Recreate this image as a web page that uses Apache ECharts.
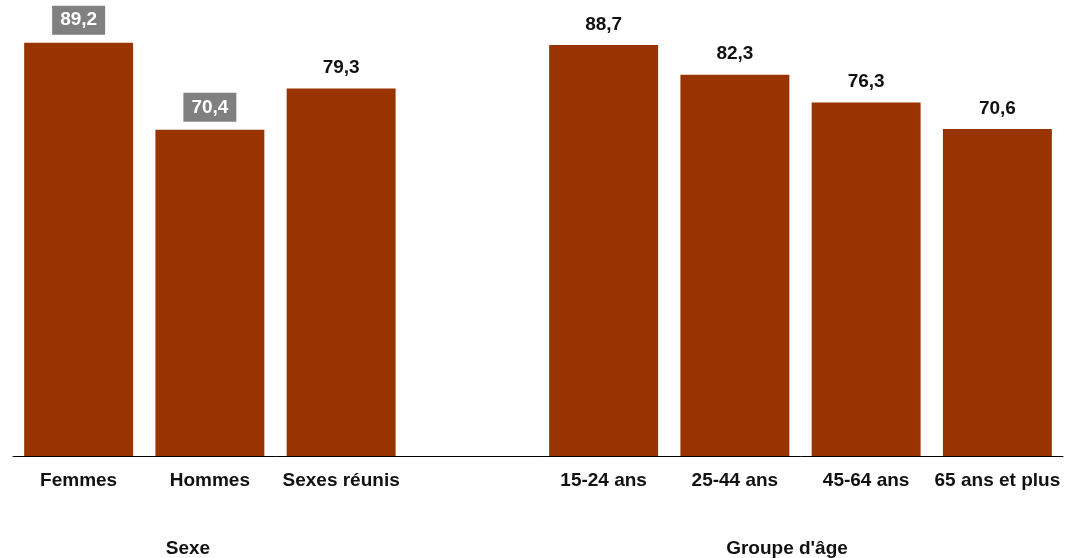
<!DOCTYPE html>
<html>
<head>
<meta charset="utf-8">
<script src="https://cdn.jsdelivr.net/npm/echarts@6/dist/echarts.min.js"></script>
<style>html,body{margin:0;padding:0;background:#fff}#c{width:1074px;height:558px}</style>
</head>
<body>
<div id="c"></div>
<script>
const categories = ['Femmes', 'Hommes', 'Sexes réunis', '', '15-24 ans', '25-44 ans', '45-64 ans', '65 ans et plus'];
const values = [89.2, 70.4, 79.3, null, 88.7, 82.3, 76.3, 70.6];
const highlighted = [true, true, false, false, false, false, false, false];
const groupLabels = ['Sexe', "Groupe d'âge"];

const FONT = '"Liberation Sans", Arial, sans-serif';
const chart = echarts.init(document.getElementById('c'), null, {renderer: 'canvas'});

const data = values.map((v, i) => {
  if (v === null) return '-';
  const item = {value: v};
  if (highlighted[i]) {
    item.label = {
      backgroundColor: '#808080',
      color: '#ffffff',
      padding: [5, 8, 5, 8],
      distance: 8
    };
  }
  return item;
});

chart.setOption({
  animation: false,
  grid: {left: 13, right: 11, top: 39, bottom: 102, containLabel: false},
  xAxis: {
    type: 'category',
    data: categories,
    axisLine: {show: true, lineStyle: {color: '#000', width: 1}},
    axisTick: {show: false},
    axisLabel: {
      interval: 0, margin: 15,
      color: '#111', fontFamily: FONT, fontWeight: 'bold', fontSize: 19
    }
  },
  yAxis: {
    type: 'value', min: 0, max: 90,
    show: false,
    splitLine: {show: false}
  },
  series: [{
    type: 'bar',
    data: data,
    barCategoryGap: '17%',
    itemStyle: {color: '#993300'},
    label: {
      show: true, position: 'top', distance: 11,
      color: '#111', fontFamily: FONT, fontWeight: 'bold', fontSize: 19,
      formatter: p => String(p.value).replace('.', ',')
    }
  }],
  graphic: [
    {type: 'text', x: 188, y: 549, style: {text: groupLabels[0], font: 'bold 19px ' + FONT, fill: '#111', textAlign: 'center', textVerticalAlign: 'middle'}},
    {type: 'text', x: 787, y: 549, style: {text: groupLabels[1], font: 'bold 19px ' + FONT, fill: '#111', textAlign: 'center', textVerticalAlign: 'middle'}}
  ]
});
</script>
</body>
</html>
